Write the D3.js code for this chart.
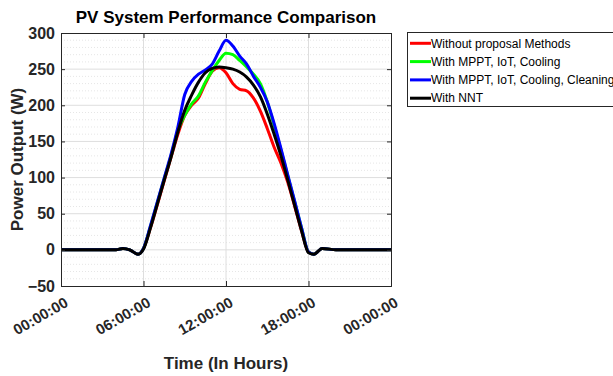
<!DOCTYPE html>
<html>
<head>
<meta charset="utf-8">
<script src="https://cdn.jsdelivr.net/npm/d3@7/dist/d3.min.js"></script>
<style>
  body { margin: 0; background: #fff; }
  svg { font-family: "Liberation Sans", Arial, sans-serif; }
</style>
</head>
<body>
<div id="chart"></div>
<script>
// hours of the day (shared by all series)
var hours = [0, 1, 2, 3, 4, 4.5, 5, 5.6, 6, 6.5, 7, 7.5, 8, 8.5, 9, 9.5, 10, 10.5, 11, 11.5, 12,
  12.5, 13, 13.5, 14, 14.5, 15, 15.5, 16, 16.5, 17, 17.5, 18, 18.4, 19, 20, 21, 22, 23, 24];

var withoutProposal = [0, 0, 0, 0, 0, 2, 0, -6, 2, 30, 62, 95, 128, 160, 186, 200, 210, 230, 247, 252, 245,
  230, 222, 220, 210, 192, 168, 142, 120, 93, 60, 26, -3, -6, 2, 0, 0, 0, 0, 0];
var withMpptIotCooling = [0, 0, 0, 0, 0, 2, 0, -6, 2, 32, 65, 98, 130, 165, 186, 202, 213, 232, 248, 262, 272,
  270, 262, 253, 243, 230, 205, 172, 138, 102, 66, 30, -3, -6, 2, 0, 0, 0, 0, 0];
var withCleaning = [0, 0, 0, 0, 0, 2, 0, -6, 2, 33, 66, 99, 132, 170, 215, 233, 243, 249, 257, 275, 290,
  282, 268, 257, 240, 225, 205, 175, 140, 103, 67, 30, -3, -6, 2, 0, 0, 0, 0, 0];
var withNNT = [0, 0, 0, 0, 0, 2, 0, -6, 1, 30, 63, 96, 128, 163, 193, 214, 232, 245, 251, 253, 252,
  250, 246, 239, 228, 212, 188, 160, 130, 96, 61, 26, -4, -6, 2, 0, 0, 0, 0, 0];

var seriesNames = ["Without proposal Methods", "With MPPT, IoT, Cooling",
  "With MPPT, IoT, Cooling, Cleaning", "With NNT"];
var seriesColors = ["#ff0000", "#00ff00", "#0000ff", "#000000"];
var seriesValues = [withoutProposal, withMpptIotCooling, withCleaning, withNNT];

var xTickHours = [0, 6, 12, 18, 24];
var xTickLabels = ["00:00:00", "06:00:00", "12:00:00", "18:00:00", "00:00:00"];
var yTicks = [-50, 0, 50, 100, 150, 200, 250, 300];

var W = 613, H = 376;
var margin = {top: 33, right: 222, bottom: 90, left: 61};
var width = W - margin.left - margin.right,
    height = H - margin.top - margin.bottom;

var svg = d3.select("#chart").append("svg").attr("width", W).attr("height", H);
var g = svg.append("g").attr("transform", "translate(" + margin.left + "," + margin.top + ")");

var x = d3.scaleLinear().domain([0, 24]).range([0, width]);
var y = d3.scaleLinear().domain([-50, 300]).range([height, 0]);

// minor grid (dotted)
g.append("g").selectAll("line")
  .data(d3.range(-50, 301, 10).filter(function(v) { return v % 50 !== 0; }))
  .enter().append("line")
  .attr("x1", 0).attr("x2", width)
  .attr("y1", function(d) { return y(d); }).attr("y2", function(d) { return y(d); })
  .attr("stroke", "#e6e6e6").attr("stroke-width", 1).attr("stroke-dasharray", "1,2");

// major grid
g.append("g").selectAll("line")
  .data(yTicks.slice(1, -1))
  .enter().append("line")
  .attr("x1", 0).attr("x2", width)
  .attr("y1", function(d) { return y(d); }).attr("y2", function(d) { return y(d); })
  .attr("stroke", "#dedede").attr("stroke-width", 1);
g.append("g").selectAll("line")
  .data(xTickHours.slice(1, -1))
  .enter().append("line")
  .attr("y1", 0).attr("y2", height)
  .attr("x1", function(d) { return x(d); }).attr("x2", function(d) { return x(d); })
  .attr("stroke", "#dedede").attr("stroke-width", 1);

// lines
var line = d3.line()
  .x(function(d, i) { return x(hours[i]); })
  .y(function(d) { return y(d); })
  .curve(d3.curveMonotoneX);

g.append("g").selectAll("path")
  .data(seriesValues)
  .enter().append("path")
  .attr("d", line)
  .attr("fill", "none")
  .attr("stroke", function(d, i) { return seriesColors[i]; })
  .attr("stroke-width", 3)
  .attr("stroke-linejoin", "round");

// axes box
var axisColor = "#262626";
var yAxis = g.append("g")
  .call(d3.axisLeft(y).tickValues(yTicks).tickSize(-4).tickPadding(6));
yAxis.selectAll("text").attr("font-size", 16).attr("font-weight", "bold").attr("fill", axisColor);
yAxis.selectAll("line").attr("stroke", axisColor);
yAxis.select(".domain").attr("stroke", axisColor);

var xAxis = g.append("g")
  .attr("transform", "translate(0," + height + ")")
  .call(d3.axisBottom(x).tickValues(xTickHours).tickSize(-5).tickFormat(function(d, i) { return xTickLabels[i]; }));
xAxis.select(".domain").attr("stroke", axisColor);
xAxis.selectAll("line").attr("stroke", axisColor);
xAxis.selectAll("text")
  .attr("font-size", 15).attr("font-weight", "bold").attr("fill", axisColor)
  .attr("text-anchor", "end")
  .attr("y", 0)
  .attr("dy", "0.35em")
  .attr("transform", "translate(5,15) rotate(-30)");

var topAxis = g.append("g")
  .call(d3.axisTop(x).tickValues(xTickHours).tickSize(-5).tickFormat(""));
topAxis.select(".domain").attr("stroke", axisColor);
topAxis.selectAll("line").attr("stroke", axisColor);
var rightAxis = g.append("g")
  .attr("transform", "translate(" + width + ",0)")
  .call(d3.axisRight(y).tickValues(yTicks).tickSize(-4).tickFormat(""));
rightAxis.select(".domain").attr("stroke", axisColor);
rightAxis.selectAll("line").attr("stroke", axisColor);

// title and labels
svg.append("text")
  .attr("x", margin.left + width / 2).attr("y", 23)
  .attr("text-anchor", "middle")
  .attr("font-size", 17).attr("font-weight", "bold").attr("fill", "#000")
  .text("PV System Performance Comparison");

svg.append("text")
  .attr("x", margin.left + width / 2).attr("y", 369)
  .attr("text-anchor", "middle")
  .attr("font-size", 17).attr("font-weight", "bold").attr("fill", axisColor)
  .text("Time (In Hours)");

svg.append("text")
  .attr("transform", "translate(23," + (margin.top + height / 2) + ") rotate(-90)")
  .attr("text-anchor", "middle")
  .attr("font-size", 17).attr("font-weight", "bold").attr("fill", axisColor)
  .text("Power Output (W)");

// legend
var legend = svg.append("g").attr("transform", "translate(407,32)");
legend.append("rect")
  .attr("x", 0.5).attr("y", 0.5).attr("width", 210).attr("height", 74)
  .attr("fill", "#fff").attr("stroke", axisColor).attr("stroke-width", 1);
var items = legend.selectAll(".item")
  .data(seriesNames)
  .enter().append("g")
  .attr("transform", function(d, i) { return "translate(0," + (11.3 + i * 18.3) + ")"; });
items.append("line")
  .attr("x1", 3).attr("x2", 24).attr("y1", 0).attr("y2", 0)
  .attr("stroke", function(d, i) { return seriesColors[i]; })
  .attr("stroke-width", 3);
items.append("text")
  .attr("x", 24).attr("y", 0).attr("dy", "0.35em")
  .attr("font-size", 12).attr("fill", "#000")
  .text(function(d) { return d; });
</script>
</body>
</html>
